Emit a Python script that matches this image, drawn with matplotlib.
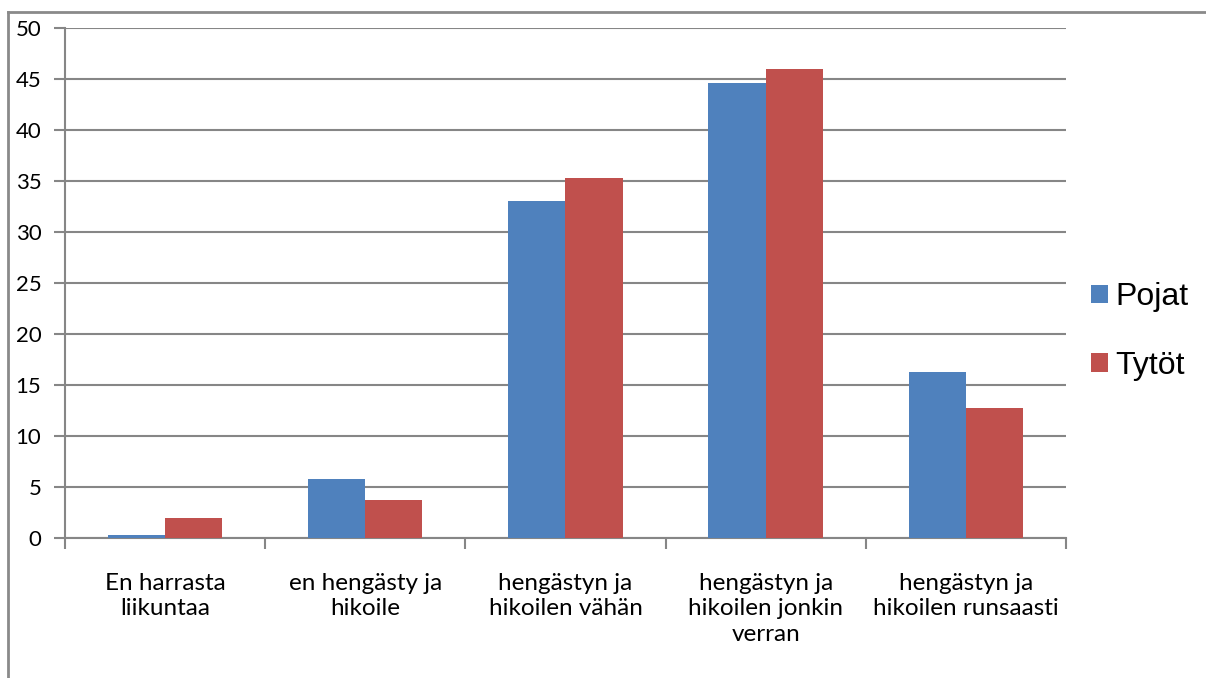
import matplotlib.pyplot as plt
import numpy as np
from matplotlib.lines import Line2D

# survey answers, percent of pupils
categories = ['En harrasta\nliikuntaa', 'en hengästy ja\nhikoile', 'hengästyn ja\nhikoilen vähän',
              'hengästyn ja\nhikoilen jonkin\nverran', 'hengästyn ja\nhikoilen runsaasti']
pojat = [0.3, 5.8, 33.0, 44.6, 16.3]
tytot = [2.0, 3.7, 35.3, 46.0, 12.7]
series_names = ['Pojat', 'Tytöt']

grid_col = '#868686'

fig = plt.figure(figsize=(12.06, 6.78), dpi=100)
ax = fig.add_axes([0.0539, 0.2065, 0.8300, 0.7522])

index = np.arange(len(categories)) + 0.5
width = 0.2857  # excel style gap width 150%
ax.bar(index - width / 2, pojat, width, color='#4F81BD', label=series_names[0], zorder=3)
ax.bar(index + width / 2, tytot, width, color='#C0504D', label=series_names[1], zorder=3)

ax.set_xlim(0, len(categories))
ax.set_ylim(0, 50)
ax.set_yticks(np.arange(0, 51, 5))
ax.yaxis.grid(True, color=grid_col, linewidth=1.5, zorder=0)

# category boundaries get the tick marks, labels sit at centers
ax.set_xticks(np.arange(0, len(categories) + 1))
ax.set_xticklabels([])
ax.set_xticks(index, minor=True)
ax.set_xticklabels(categories, minor=True, fontsize=17.5, family='Lato', linespacing=1.27)
ax.tick_params(axis='x', which='minor', length=0, pad=25)
ax.tick_params(axis='x', which='major', length=8, width=1.5, color=grid_col)
ax.tick_params(axis='y', length=8, width=1.5, color=grid_col, pad=9, labelsize=16)
for lab in ax.get_yticklabels():
    lab.set_family('Lato')

for side in ['top', 'right']:
    ax.spines[side].set_visible(False)
for side in ['left', 'bottom']:
    ax.spines[side].set_color(grid_col)
    ax.spines[side].set_linewidth(1.5)

ax.legend(loc='center left', bbox_to_anchor=(1.025, 0.405), frameon=False,
          prop={'family': 'Liberation Sans', 'size': 23},
          handlelength=0.53, handleheight=0.53, handletextpad=0.22, labelspacing=1.2,
          borderaxespad=0.0, borderpad=0.0)

# outer chart frame
fig.add_artist(Line2D([8 / 1206, 8 / 1206], [0, 1 - 12 / 678], transform=fig.transFigure,
                      color='#8a8a8a', linewidth=2))
fig.add_artist(Line2D([8 / 1206, 1], [1 - 12 / 678, 1 - 12 / 678], transform=fig.transFigure,
                      color='#8a8a8a', linewidth=2))

fig.savefig('out.png', dpi=100)
